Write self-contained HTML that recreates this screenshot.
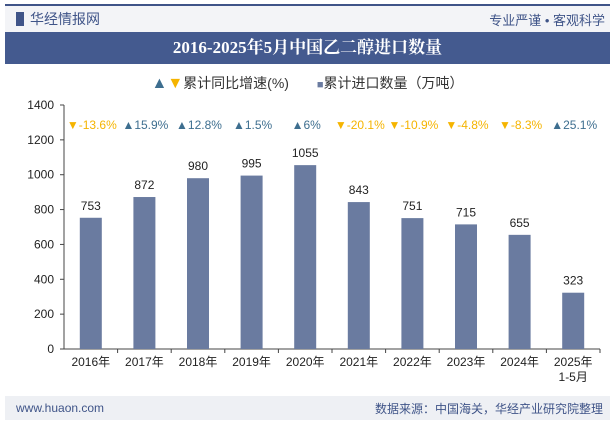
<!DOCTYPE html>
<html><head><meta charset="utf-8"><style>
body{margin:0;width:615px;height:427px;background:#fff;font-family:"Liberation Sans","Noto Sans CJK SC",sans-serif;position:relative;overflow:hidden}
.a{position:absolute}
</style></head><body>
<div class="a" style="left:5px;top:4px;width:605px;height:2px;background:#3f5488"></div>
<div class="a" style="left:5px;top:6px;width:605px;height:26px;background:#f3f4f7"></div>
<div class="a" style="left:16px;top:9px;font-size:14px;color:#3f5488"><span style="display:inline-block;width:8px;height:14px;background:#3f5488;vertical-align:-2px;margin-right:6px"></span>华经情报网</div>
<div class="a" style="right:10px;top:10px;font-size:13px;color:#3f5488">专业严谨 • 客观科学</div>
<div class="a" style="left:5px;top:32px;width:605px;height:32px;background:#445a8f;color:#fff;font-size:17px;font-weight:bold;text-align:center;line-height:32px;font-family:'Liberation Serif','Noto Serif CJK SC',serif">2016-2025年5月中国乙二醇进口数量</div>
<div class="a" style="left:0;width:615px;top:73px;text-align:center;font-size:14px;color:#333">
<span><span style="color:#3d6e8f;font-size:16px">▲</span><span style="color:#f5b400;font-size:16px">▼</span>累计同比增速(%)</span>
<span style="margin-left:24px"><span style="color:#6a7ba0;font-size:11px">■</span>累计进口数量（万吨）</span></div>
<svg class="a" style="left:0;top:0" width="615" height="427" id="chart"></svg>
<div class="a" style="left:5px;top:396px;width:605px;height:24px;background:#eef0f4"></div>
<div class="a" style="left:16px;top:401px;font-size:12px;color:#3f5488">www.huaon.com</div>
<div class="a" style="right:12px;top:400px;font-size:12px;color:#3f5488">数据来源：中国海关，华经产业研究院整理</div>
<script>
const categories=["2016年","2017年","2018年","2019年","2020年","2021年","2022年","2023年","2024年","2025年"];
const volumes=[753,872,980,995,1055,843,751,715,655,323];
const growth=[-13.6,15.9,12.8,1.5,6,-20.1,-10.9,-4.8,-8.3,25.1];
const growthLabels=["-13.6%","15.9%","12.8%","1.5%","6%","-20.1%","-10.9%","-4.8%","-8.3%","25.1%"];
const yTicks=[0,200,400,600,800,1000,1200,1400];
const svg=document.getElementById('chart');const NS='http://www.w3.org/2000/svg';
const x0=64,x1=600,yb=349,yt=105,ymax=1400;
const y=v=>yb-(v/ymax)*(yb-yt);const bw=(x1-x0)/categories.length;const xc=i=>x0+bw*(i+0.5);
function el(t,a,txt){const e=document.createElementNS(NS,t);for(const k in a)e.setAttribute(k,a[k]);if(txt!=null)e.textContent=txt;svg.appendChild(e);return e;}
let ax=el('line',{x1:x0,x2:x0,y1:yt,y2:yb,stroke:'#444'});

let bx=el('line',{x1:x0,x2:x1,y1:yb,y2:yb,stroke:'#444'});

yTicks.forEach(v=>{el('line',{x1:x0-4,x2:x0,y1:y(v),y2:y(v),stroke:'#444'});
let t=el('text',{x:x0-10,y:y(v)+4,'text-anchor':'end','font-size':12,fill:'#222'},v);
});
categories.forEach((c,i)=>{
el('line',{x1:x0+bw*(i+1),x2:x0+bw*(i+1),y1:yb,y2:yb+4,stroke:'#444'});
let r=el('rect',{x:xc(i)-11,y:y(volumes[i]),width:22,height:yb-y(volumes[i]),fill:'#6a7ba0'});

let v=el('text',{x:xc(i),y:y(volumes[i])-8,'text-anchor':'middle','font-size':12,fill:'#222'},volumes[i]);

let t=el('text',{x:xc(i),y:yb+17,'text-anchor':'middle','font-size':12,fill:'#222'},c);

if(i===categories.length-1){let t2=el('text',{x:xc(i),y:yb+32,'text-anchor':'middle','font-size':12,fill:'#222'},'1-5月');
}
const up=growth[i]>=0;
let g=el('text',{x:xc(i)+1,y:129,'text-anchor':'middle','font-size':12,fill:up?'#3d6e8f':'#f5b400'},(up?'▲':'▼')+growthLabels[i]);

});
</script>
</body></html>
